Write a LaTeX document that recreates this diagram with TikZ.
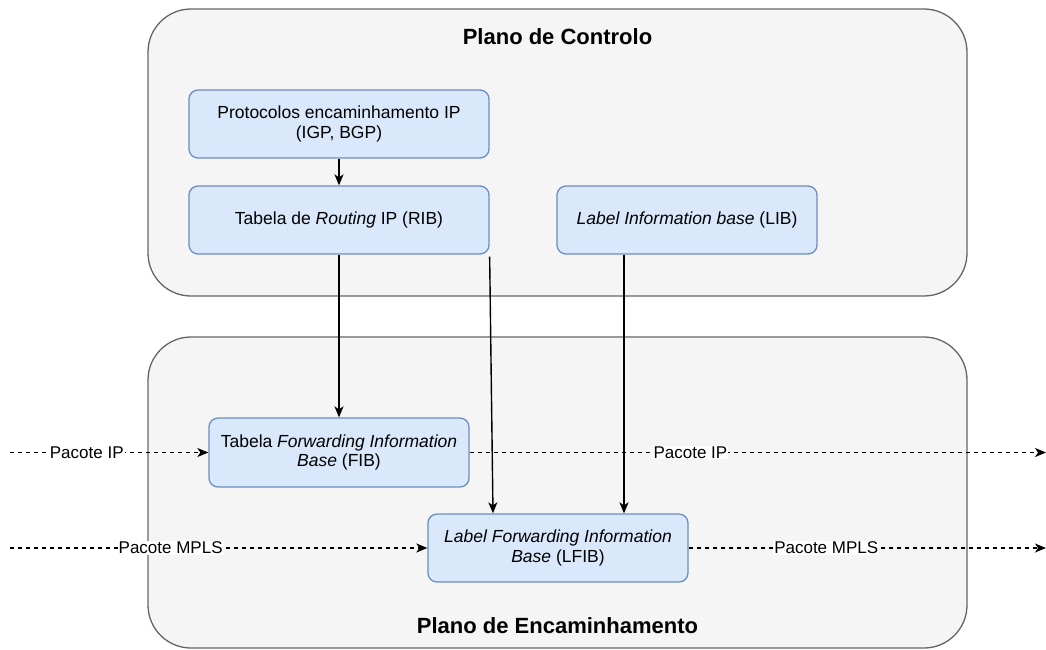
\documentclass[tikz,border=0pt]{standalone}
\usepackage{fontspec}
\setmainfont{Liberation Sans}
\usetikzlibrary{arrows.meta}

\definecolor{planefill}{HTML}{F5F5F5}
\definecolor{planeline}{HTML}{666666}
\definecolor{boxfill}{HTML}{DAE8FC}
\definecolor{boxline}{HTML}{6C8EBF}

\tikzset{
  plane/.style={draw=planeline, fill=planefill, line width=1.3pt,
    rounded corners=43pt, inner sep=0pt},
  planetitle/.style={font=\fontsize{22}{24}\selectfont\bfseries, inner sep=0pt},
  infobox/.style={draw=boxline, fill=boxfill, line width=1.3pt,
    rounded corners=9pt, align=center, inner sep=2pt,
    font=\fontsize{17.5}{19.5}\selectfont},
  flow/.style={draw=black, line width=1.4pt,
    -{Stealth[length=11pt,width=9pt,inset=3pt]}},
  packet/.style={flow, dash pattern=on 4pt off 4pt},
  pktlabel/.style={fill=white, inner sep=1pt, font=\fontsize{17}{19}\selectfont}
}

\begin{document}
\begin{tikzpicture}[x=1pt, y=-1pt]
  \useasboundingbox (0,0) rectangle (1046,649);

  % the two planes
  \node[plane, minimum width=819pt, minimum height=287pt] (ctrl) at (557.5,152.5) {};
  \node[plane, minimum width=819pt, minimum height=311pt] (fwd) at (557.5,492.5) {};
  \node[planetitle] (ctrltitle) at (557.5,37) {Plano de Controlo};
  \node[planetitle] (fwdtitle) at (557.5,626) {Plano de Encaminhamento};

  % control plane tables
  \node[infobox, minimum width=300pt, minimum height=68pt] (proto) at (339,124)
    {Protocolos encaminhamento IP\\(IGP, BGP)};
  \node[infobox, minimum width=300pt, minimum height=68pt] (rib) at (339,220)
    {Tabela de \textit{Routing} IP (RIB)};
  \node[infobox, minimum width=260pt, minimum height=68pt] (lib) at (687,220)
    {\textit{Label Information base} (LIB)};

  % forwarding plane tables
  \node[infobox, minimum width=260pt, minimum height=69pt] (fib) at (339,452.5)
    {Tabela \textit{Forwarding Information}\\\textit{Base} (FIB)};
  \node[infobox, minimum width=260pt, minimum height=68pt] (lfib) at (558,548)
    {\textit{Label Forwarding Information}\\\textit{Base} (LFIB)};

  % control flow between tables
  \coordinate (ribtap) at ([yshift=-2pt]rib.south east);
  \coordinate (lfibinA) at (lfib.north -| 493,0);
  \coordinate (libtap) at (lib.south -| 624,0);
  \coordinate (lfibinB) at (lfib.north -| 624,0);
  \draw[flow] (proto.south) -- (rib.north);
  \draw[flow] (rib.south) -- (fib.north);
  \draw[flow] (ribtap) -- (lfibinA);
  \draw[flow] (libtap) -- (lfibinB);

  % packet paths
  \coordinate (ipin) at (10,452.5);
  \coordinate (ipout) at (1046,452.5);
  \coordinate (mplsin) at (10,548);
  \coordinate (mplsout) at (1046,548);

  \draw[packet] (ipin) -- node[pktlabel, pos=0.387] (lblipin) {Pacote IP} (fib.west);
  \draw[packet] (fib.east) -- node[pktlabel, pos=0.383] (lblipout) {Pacote IP} (ipout);
  \draw[packet] (mplsin) -- node[pktlabel, pos=0.385] (lblmplsin) {Pacote MPLS} (lfib.west);
  \draw[packet] (lfib.east) -- node[pktlabel, pos=0.385] (lblmplsout) {Pacote MPLS} (mplsout);
\end{tikzpicture}
\end{document}
